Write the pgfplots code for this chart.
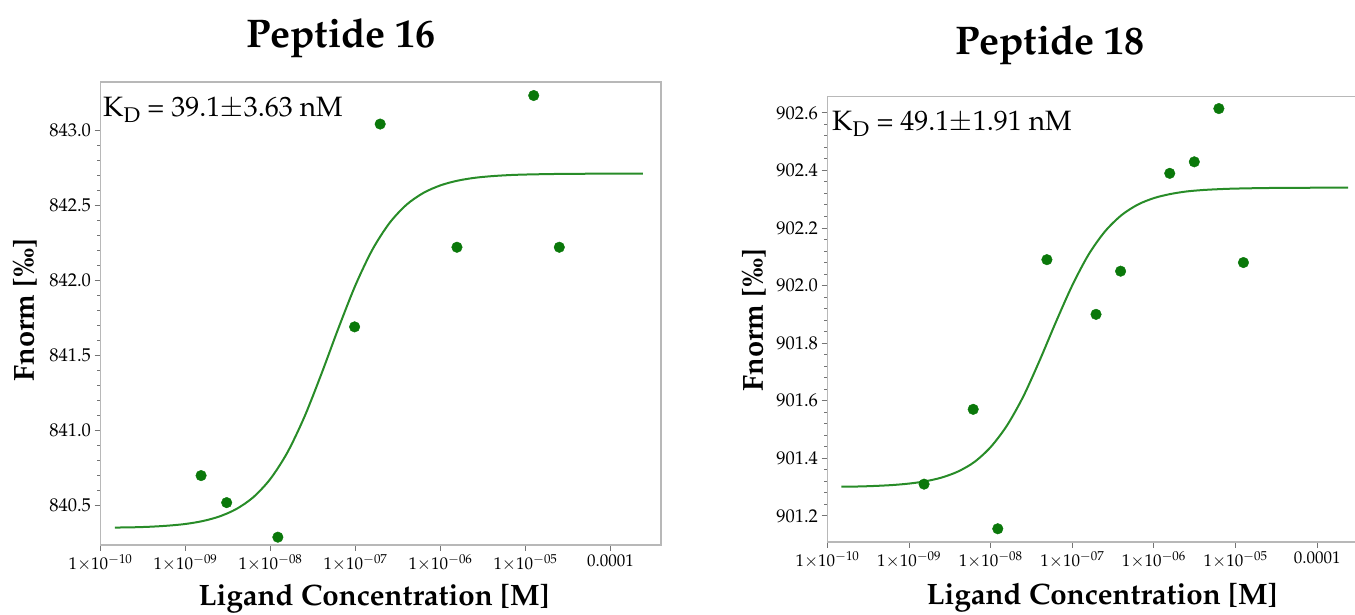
\documentclass[border=0pt]{standalone}
\usepackage[T1]{fontenc}
\usepackage{mathpazo}
\usepackage{textcomp}
\usepackage{pgfplots}
\pgfplotsset{compat=1.18}

\definecolor{ptgreen}{RGB}{10,120,10}
\definecolor{lngreen}{RGB}{40,140,40}

\pgfplotsset{
  mstpts/.style={only marks, mark=*, mark size=5.3pt, color=ptgreen},
  mstfit/.style={no marks, smooth, color=lngreen, line width=2pt},
}

\begin{document}
\begin{tikzpicture}
\path[use as bounding box] (0pt,0pt) rectangle (1355pt,615pt);

% ---------------- Peptide 16 ----------------
\begin{axis}[
  scale only axis, xmode=log, log basis x=10,
  axis line style={draw=black!28, line width=1.4pt},
  tick pos=left, tick align=outside,
  major tick length=6pt, minor tick length=3.5pt,
  every tick/.append style={draw=black!55, line width=1pt},
  xminorticks=false,
  xtick={1e-10,1e-9,1e-8,1e-7,1e-6,1e-5,1e-4},
  xticklabels={1$\times$10$^{-10}$, 1$\times$10$^{-09}$, 1$\times$10$^{-08}$, 1$\times$10$^{-07}$, 1$\times$10$^{-06}$, 1$\times$10$^{-05}$, 0.0001},
  scaled y ticks=false,
  xticklabel style={font=\fontsize{17}{20}\selectfont},
  yticklabel style={font=\fontsize{18.5}{22}\selectfont, /pgf/number format/.cd, fixed, fixed zerofill, precision=1, assume math mode=true},
  minor y tick num=4,
  at={(100.5pt,70pt)}, anchor=south west,
  width=560.5pt, height=463pt,
  xmin=1e-10, xmax=3.93e-4, ymin=840.238, ymax=843.32,
  ytick={840.5,841,841.5,842,842.5,843}]
\addplot[mstfit] coordinates {
(1.48e-10,840.354) (2.512e-10,840.356) (3.981e-10,840.360) (6.310e-10,840.367)
(1e-9,840.378) (1.585e-9,840.397) (2.512e-9,840.428) (3.981e-9,840.478)
(6.310e-9,840.557) (1e-8,840.679) (1.585e-8,840.855) (2.512e-8,841.092)
(3.981e-8,841.378) (6.310e-8,841.682) (1e-7,841.968) (1.585e-7,842.205)
(2.512e-7,842.381) (3.981e-7,842.503) (6.310e-7,842.582) (1e-6,842.632)
(1.585e-6,842.663) (2.512e-6,842.682) (3.981e-6,842.693) (6.310e-6,842.700)
(1e-5,842.704) (2.512e-5,842.708) (1e-4,842.710) (2.4e-4,842.710)
};
\addplot[mstpts] coordinates {
(1.526e-9,840.70) (3.052e-9,840.52) (1.221e-8,840.29) (9.766e-8,841.69)
(1.953e-7,843.04) (1.5625e-6,842.22) (1.25e-5,843.23) (2.5e-5,842.22)
};
\end{axis}

% ---------------- Peptide 18 ----------------
\begin{axis}[
  scale only axis, xmode=log, log basis x=10,
  axis line style={draw=black!28, line width=1.4pt},
  tick pos=left, tick align=outside,
  major tick length=6pt, minor tick length=3.5pt,
  every tick/.append style={draw=black!55, line width=1pt},
  xminorticks=false,
  xtick={1e-10,1e-9,1e-8,1e-7,1e-6,1e-5,1e-4},
  xticklabels={1$\times$10$^{-10}$, 1$\times$10$^{-09}$, 1$\times$10$^{-08}$, 1$\times$10$^{-07}$, 1$\times$10$^{-06}$, 1$\times$10$^{-05}$, 0.0001},
  scaled y ticks=false,
  xticklabel style={font=\fontsize{17}{20}\selectfont},
  yticklabel style={font=\fontsize{18.5}{22}\selectfont, /pgf/number format/.cd, fixed, fixed zerofill, precision=1, assume math mode=true},
  minor y tick num=4,
  at={(827.5pt,73pt)}, anchor=south west,
  width=529.5pt, height=445.5pt,
  xmin=1e-10, xmax=3.08e-4, ymin=901.109, ymax=902.657,
  ytick={901.2,901.4,901.6,901.8,902,902.2,902.4,902.6}]
\addplot[mstfit] coordinates {
(1.48e-10,901.301) (2.512e-10,901.302) (3.981e-10,901.304) (6.310e-10,901.307)
(1e-9,901.312) (1.585e-9,901.320) (2.512e-9,901.333) (3.981e-9,901.354)
(6.310e-9,901.387) (1e-8,901.439) (1.585e-8,901.514) (2.512e-8,901.615)
(3.981e-8,901.740) (6.310e-8,901.874) (1e-7,902.001) (1.585e-7,902.108)
(2.512e-7,902.188) (3.981e-7,902.244) (6.310e-7,902.281) (1e-6,902.304)
(1.585e-6,902.318) (2.512e-6,902.327) (3.981e-6,902.332) (6.310e-6,902.335)
(1e-5,902.337) (2.512e-5,902.339) (1e-4,902.340) (2.4e-4,902.340)
};
\addplot[mstpts] coordinates {
(1.526e-9,901.31) (6.104e-9,901.57) (1.221e-8,901.155) (4.883e-8,902.09)
(1.953e-7,901.90) (3.906e-7,902.05) (1.5625e-6,902.39) (3.125e-6,902.43)
(6.25e-6,902.615) (1.25e-5,902.08)
};
\end{axis}

% ---------------- texts ----------------
\node[font=\fontsize{40}{44}\selectfont\bfseries, anchor=base, inner sep=0pt] at (341pt,567pt) {Peptide 16};
\node[font=\fontsize{40}{44}\selectfont\bfseries, anchor=base, inner sep=0pt] at (1050pt,560pt) {Peptide 18};
\node[font=\fontsize{29.5}{34}\selectfont\bfseries, anchor=base, inner sep=0pt] at (374pt,9pt) {Ligand Concentration [M]};
\node[font=\fontsize{29.5}{34}\selectfont\bfseries, anchor=base, inner sep=0pt] at (1102pt,10pt) {Ligand Concentration [M]};
\node[font=\fontsize{29}{34}\selectfont\bfseries, rotate=90, anchor=center, inner sep=0pt] at (25pt,305pt) {Fnorm [\textperthousand]};
\node[font=\fontsize{29}{34}\selectfont\bfseries, rotate=90, anchor=center, inner sep=0pt] at (754pt,295pt) {Fnorm [\textperthousand]};
\node[font=\fontsize{28}{32}\selectfont, anchor=base west, inner sep=0pt] at (103pt,498pt) {K$_{\mathrm{D}}$ = 39.1$\pm$3.63 nM};
\node[font=\fontsize{28}{32}\selectfont, anchor=base west, inner sep=0pt] at (832pt,484pt) {K$_{\mathrm{D}}$ = 49.1$\pm$1.91 nM};
\end{tikzpicture}
\end{document}
